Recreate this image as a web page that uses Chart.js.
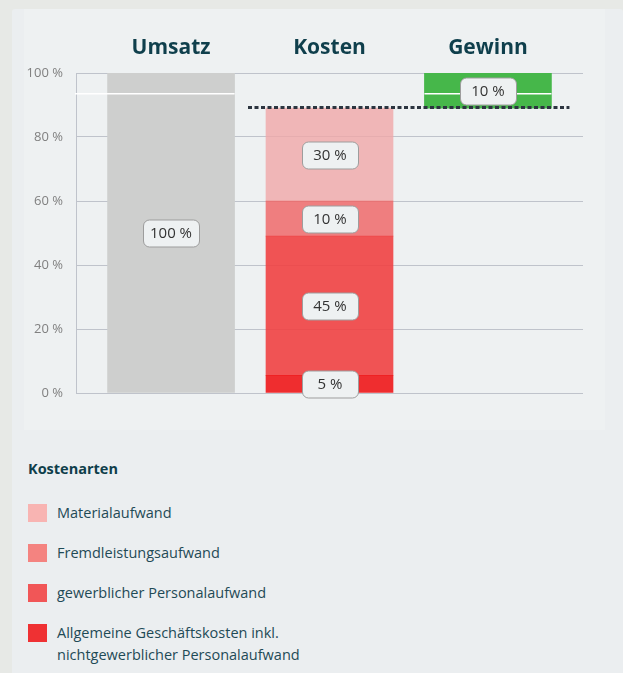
<!DOCTYPE html>
<html><head><meta charset="utf-8">
<script src="https://cdn.jsdelivr.net/npm/chart.js@4/dist/chart.umd.min.js"></script>
<style>
html,body{margin:0;padding:0;background:#e7e9e6;width:623px;height:673px;overflow:hidden;font-family:"Open Sans",sans-serif;}
#card{position:absolute;left:12px;top:9px;width:611px;height:700px;background:#ebeef0;border-radius:3px;}
#panel{position:absolute;left:24px;top:9px;width:581px;height:421px;background:#eef1f2;}
#legend{position:absolute;left:28px;top:459px;color:#1f4a56;}
#legend .title{font-weight:700;font-size:14.5px;line-height:20px;color:#0f3e4b;height:20px;}
#legend .item{position:relative;padding-left:29px;font-size:14.5px;line-height:22px;width:270px;margin-bottom:18px;}
#legend .sw{position:absolute;left:0;top:2px;width:19px;height:18px;}
</style></head>
<body>
<div id="card"></div>
<div id="panel"><canvas id="c" width="581" height="421"></canvas></div>
<div id="legend"><div class="title">Kostenarten</div><div id="items" style="margin-top:23px"></div></div>
<script>
// ---- data ----
const CATEGORIES = ['Umsatz', 'Kosten', 'Gewinn'];
const UMSATZ_VALUE = 100;
const UMSATZ_LABEL = '100 %';
const COST_TYPES = ['Materialaufwand', 'Fremdleistungsaufwand', 'gewerblicher Personalaufwand', 'Allgemeine Geschäftskosten inkl. nichtgewerblicher Personalaufwand'];
const COST_VALUES = [29, 11, 43.5, 5.5];
const COST_LABELS = ['30 %', '10 %', '45 %', '5 %'];
const GEWINN_RANGE = [89, 100];
const GEWINN_LABEL = '10 %';
const MARK_LINE_VALUE = 93.5;
const Y_TICK_STEP = 20;

// ---- styles ----
const BAR_COLORS = ['rgba(240,168,167,0.8)', 'rgba(239,98,97,0.8)', 'rgba(240,65,67,0.9)', 'rgba(238,23,25,0.9)'];
const SWATCH_COLORS = ['#f8b4b2', '#f48380', '#f15657', '#ef3133'];
const KOSTEN_TOTAL = COST_VALUES.reduce((a, b) => a + b, 0);

const datasets = [
  { label: CATEGORIES[0], data: [{ x: 0, y: UMSATZ_VALUE }], backgroundColor: '#cecfce', barLabel: UMSATZ_LABEL }
];
for (let i = COST_TYPES.length - 1; i >= 0; i--) {
  datasets.push({ label: COST_TYPES[i], data: [{ x: 1, y: COST_VALUES[i] }], backgroundColor: BAR_COLORS[i], barLabel: COST_LABELS[i], isCost: true });
}
datasets.push({ label: CATEGORIES[2], data: [{ x: 2, y: GEWINN_RANGE }], backgroundColor: '#46b74a', barLabel: GEWINN_LABEL, isProfit: true });
datasets.forEach(d => { d.barThickness = 127; d.grouped = false; d.borderWidth = 0; });

const overlay = {
  id: 'overlay',
  afterDatasetsDraw(chart) {
    const { ctx, chartArea, scales: { y } } = chart;
    ctx.save();
    const metas = chart.data.datasets.map((d, i) => chart.getDatasetMeta(i));
    const umsEl = metas[0].data[0];
    const profEl = metas[metas.length - 1].data[0];

    // white marker line across the bars reaching it
    const wy = y.getPixelForValue(MARK_LINE_VALUE);
    ctx.strokeStyle = '#ffffff'; ctx.lineWidth = 1.5;
    ctx.beginPath();
    ctx.moveTo(chartArea.left - 1, wy); ctx.lineTo(umsEl.x + umsEl.width / 2, wy);
    ctx.moveTo(profEl.x - profEl.width / 2, wy); ctx.lineTo(profEl.x + profEl.width / 2, wy);
    ctx.stroke();

    const costEls = metas.filter((m, i) => chart.data.datasets[i].isCost).map(m => m.data[0]);
    const left = Math.min(...costEls.map(e => e.x - e.width / 2)) - 18;
    const right = profEl.x + profEl.width / 2 + 18;
    const dy = Math.round(y.getPixelForValue(KOSTEN_TOTAL)) - 0.5;
    ctx.setLineDash([4, 2.5]); ctx.lineWidth = 3; ctx.strokeStyle = '#2c3540';
    ctx.beginPath(); ctx.moveTo(left, dy); ctx.lineTo(right, dy); ctx.stroke();
    ctx.setLineDash([]);

    chart.data.datasets.forEach((ds, i) => {
      const el = metas[i].data[0];
      const cx = Math.round(el.x), cy = Math.round((el.y + el.base) / 2);
      const w = 56, h = 27;
      ctx.beginPath();
      ctx.roundRect(cx - w / 2 + 0.5, cy - h / 2 + 0.5, w, h, 6);
      ctx.fillStyle = '#eef1f2'; ctx.fill();
      ctx.strokeStyle = '#9d9d9d'; ctx.lineWidth = 1; ctx.stroke();
      ctx.fillStyle = '#333333';
      ctx.font = '15px "Open Sans"';
      ctx.textAlign = 'center'; ctx.textBaseline = 'middle';
      ctx.fillText(ds.barLabel, cx, cy + 1);
    });
    ctx.restore();
  }
};

new Chart(document.getElementById('c'), {
  type: 'bar',
  data: { datasets },
  plugins: [overlay],
  options: {
    responsive: false,
    animation: false,
    layout: { padding: { left: 0, right: 22, top: 0, bottom: 37 } },
    plugins: { legend: { display: false }, tooltip: { enabled: false } },
    scales: {
      x: {
        type: 'linear', position: 'top', min: -0.6, max: 2.6, offset: false,
        grid: { display: false, offset: false }, border: { display: false },
        afterBuildTicks: s => { s.ticks = CATEGORIES.map((c, i) => ({ value: i })); },
        afterFit: s => { s.height = 64; s.paddingLeft = 0; s.paddingRight = 0; },
        ticks: { autoSkip: false, maxRotation: 0, padding: 4, color: '#0f3f4c', font: { family: 'Open Sans', size: 21, weight: '700' }, callback: v => CATEGORIES[v] ?? '' }
      },
      y: {
        stacked: true, min: 0, max: 100,
        grid: { color: '#bfc3cb', drawTicks: false, lineWidth: 1 },
        border: { display: true, color: '#bfc3cb' },
        afterFit: s => { s.width = 52; s.paddingTop = 0; s.paddingBottom = 0; },
        ticks: { stepSize: Y_TICK_STEP, padding: 13, color: '#808080', font: { family: 'Open Sans', size: 13 }, callback: v => v + ' %' }
      }
    }
  }
});

// HTML legend
const items = document.getElementById('items');
COST_TYPES.forEach((name, i) => {
  const d = document.createElement('div'); d.className = 'item';
  const s = document.createElement('span'); s.className = 'sw'; s.style.background = SWATCH_COLORS[i];
  d.appendChild(s); d.appendChild(document.createTextNode(name));
  items.appendChild(d);
});
</script>
</body></html>
